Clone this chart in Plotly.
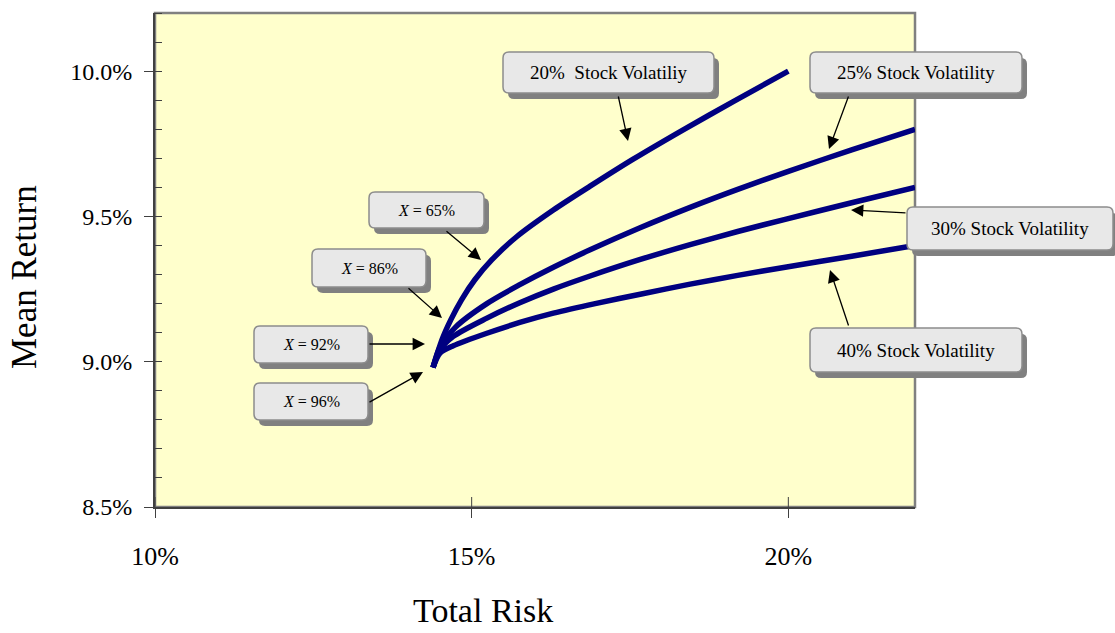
import plotly.graph_objects as go

# Efficient frontiers: total risk (%) vs mean return (%) for four stock volatilities
risk_20 = [14.39, 14.53, 14.67, 14.84, 15.05, 15.32, 15.71, 16.29, 16.87, 17.55, 18.34, 19.13, 20.00]
ret_20 = [8.98, 9.075, 9.144, 9.213, 9.282, 9.351, 9.43, 9.522, 9.604, 9.697, 9.798, 9.895, 10.00]

risk_25 = [14.39, 14.50, 14.75, 15.24, 15.76, 16.29, 16.87, 17.65, 18.45, 19.20, 20.00, 21.00, 22.00]
ret_25 = [8.98, 9.05, 9.12, 9.20, 9.265, 9.325, 9.385, 9.460, 9.531, 9.593, 9.655, 9.729, 9.80]

risk_30 = [14.39, 14.50, 14.71, 15.24, 15.76, 16.29, 16.87, 17.65, 18.45, 19.20, 19.95, 21.00, 22.00]
ret_30 = [8.98, 9.04, 9.087, 9.150, 9.203, 9.250, 9.295, 9.351, 9.403, 9.448, 9.490, 9.547, 9.60]

risk_40 = [14.39, 14.50, 14.71, 15.24, 15.76, 16.29, 16.95, 17.70, 18.45, 19.20, 19.95, 21.00, 22.00]
ret_40 = [8.98, 9.03, 9.055, 9.098, 9.135, 9.167, 9.20, 9.234, 9.267, 9.297, 9.325, 9.363, 9.40]

x_tickvals = [10, 15, 20]
x_ticktext = ["10%", "15%", "20%"]
y_tickvals = [8.5, 9.0, 9.5, 10.0]
y_ticktext = ["8.5%", "9.0%", "9.5%", "10.0%"]

callout_texts = [
    "20%\u00a0 Stock Volatiliy",
    "25% Stock Volatility",
    "30% Stock Volatility",
    "40% Stock Volatility",
    "<i>X</i> = 65%",
    "<i>X</i> = 86%",
    "<i>X</i> = 92%",
    "<i>X</i> = 96%",
]

# ---- layout geometry (pixels) ----
W, H = 1115, 633
ML, MR, MT, MB = 155, 200, 13, 126
PW, PH = W - ML - MR, H - MT - MB

FONT = "Liberation Serif, Times New Roman, serif"
NAVY = "#000080"


def pxx(x):
    return (x - ML) / PW


def pxy(y):
    return (H - MB - y) / PH


# callout boxes: left, top, right, bottom (pixels)
callout_boxes = [
    (503, 52, 714, 93),
    (810, 52, 1022, 93),
    (907, 207, 1113, 250),
    (810, 328, 1022, 372),
    (369, 192, 484, 228),
    (312, 249, 426, 287),
    (254, 326, 368, 363),
    (254, 383, 368, 420),
]
callout_sizes = [19, 19, 19, 19, 16, 16, 16, 16]
# arrow tail -> head (pixels)
callout_arrows = [
    ((618, 95), (628, 141)),
    ((849, 95), (829, 149)),
    ((907, 213), (851, 210)),
    ((849, 327), (830, 270)),
    ((445, 230), (481, 260)),
    ((407, 287), (442, 318)),
    ((368, 344), (425, 344)),
    ((368, 403), (423, 372)),
]


def rounded_path(x0, y0, x1, y1, r=6):
    pts = [
        ("M", [(x0 + r, y0)]),
        ("L", [(x1 - r, y0)]),
        ("Q", [(x1, y0), (x1, y0 + r)]),
        ("L", [(x1, y1 - r)]),
        ("Q", [(x1, y1), (x1 - r, y1)]),
        ("L", [(x0 + r, y1)]),
        ("Q", [(x0, y1), (x0, y1 - r)]),
        ("L", [(x0, y0 + r)]),
        ("Q", [(x0, y0), (x0 + r, y0)]),
    ]
    out = []
    for cmd, ps in pts:
        out.append(cmd + " " + " ".join(f"{pxx(a):.5f},{pxy(b):.5f}" for a, b in ps))
    return " ".join(out) + " Z"


fig = go.Figure()

for rx, ry in [(risk_20, ret_20), (risk_25, ret_25), (risk_30, ret_30), (risk_40, ret_40)]:
    fig.add_trace(go.Scatter(
        x=rx, y=ry, mode="lines",
        line=dict(color=NAVY, width=5.5, shape="spline", smoothing=0.8),
        hoverinfo="skip", showlegend=False,
    ))

shapes = []
# plot frame
shapes.append(dict(type="rect", xref="paper", yref="paper", x0=0, y0=0, x1=1, y1=1,
                   line=dict(color="#808080", width=2.5), layer="below"))
# inner half of the x tick marks
for v in x_tickvals:
    shapes.append(dict(type="line", xref="x", yref="paper", x0=v, x1=v, y0=0, y1=10 / PH,
                       line=dict(color="#404040", width=1), layer="above"))

annotations = []
for (x0, y0, x1, y1), txt, fs, (tail, head) in zip(callout_boxes, callout_texts, callout_sizes, callout_arrows):
    # drop shadow then box
    shapes.append(dict(type="path", xref="paper", yref="paper",
                       path=rounded_path(x0 + 5, y0 + 6, x1 + 5, y1 + 6),
                       fillcolor="#808080", line=dict(width=0), layer="above"))
    shapes.append(dict(type="path", xref="paper", yref="paper",
                       path=rounded_path(x0, y0, x1, y1),
                       fillcolor="#E8E8E8", line=dict(color="#8C8C8C", width=1.5), layer="above"))
    annotations.append(dict(xref="paper", yref="paper", x=pxx((x0 + x1) / 2), y=pxy((y0 + y1) / 2),
                            text=txt, showarrow=False, xanchor="center", yanchor="middle",
                            font=dict(family=FONT, size=fs, color="#000000")))
    annotations.append(dict(xref="paper", yref="paper", x=pxx(head[0]), y=pxy(head[1]),
                            ax=tail[0] - head[0], ay=tail[1] - head[1], text="",
                            showarrow=True, arrowhead=2, arrowsize=1.9, arrowwidth=1.3,
                            arrowcolor="#000000"))

# axis titles
annotations.append(dict(xref="paper", yref="paper", x=pxx(483), y=pxy(610), text="Total Risk",
                        showarrow=False, xanchor="center", yanchor="middle",
                        font=dict(family=FONT, size=34, color="#000000")))
annotations.append(dict(xref="paper", yref="paper", x=pxx(25), y=pxy(277), text="Mean Return",
                        showarrow=False, xanchor="center", yanchor="middle", textangle=-90,
                        font=dict(family=FONT, size=35, color="#000000")))

fig.update_layout(
    width=W, height=H,
    margin=dict(l=ML, r=MR, t=MT, b=MB, pad=0),
    paper_bgcolor="#FFFFFF",
    plot_bgcolor="#FFFFCC",
    shapes=shapes,
    annotations=annotations,
    showlegend=False,
    xaxis=dict(
        range=[10, 22], tickvals=x_tickvals, ticktext=x_ticktext,
        ticks="outside", ticklen=9, tickwidth=1, tickcolor="#404040",
        showline=True, linecolor="#404040", linewidth=2,
        showgrid=False, zeroline=False, ticklabelstandoff=16,
        tickfont=dict(family=FONT, size=26, color="#000000"),
    ),
    yaxis=dict(
        range=[8.5, 10.2], tickvals=y_tickvals, ticktext=y_ticktext,
        ticks="outside", ticklen=9, tickwidth=1, tickcolor="#404040",
        minor=dict(tick0=8.5, dtick=0.1, ticks="inside", ticklen=7, tickwidth=1, tickcolor="#404040"),
        showline=True, linecolor="#404040", linewidth=2,
        showgrid=False, zeroline=False, ticklabelstandoff=7,
        tickfont=dict(family=FONT, size=24, color="#000000"),
    ),
)

fig.write_html("out.html")
